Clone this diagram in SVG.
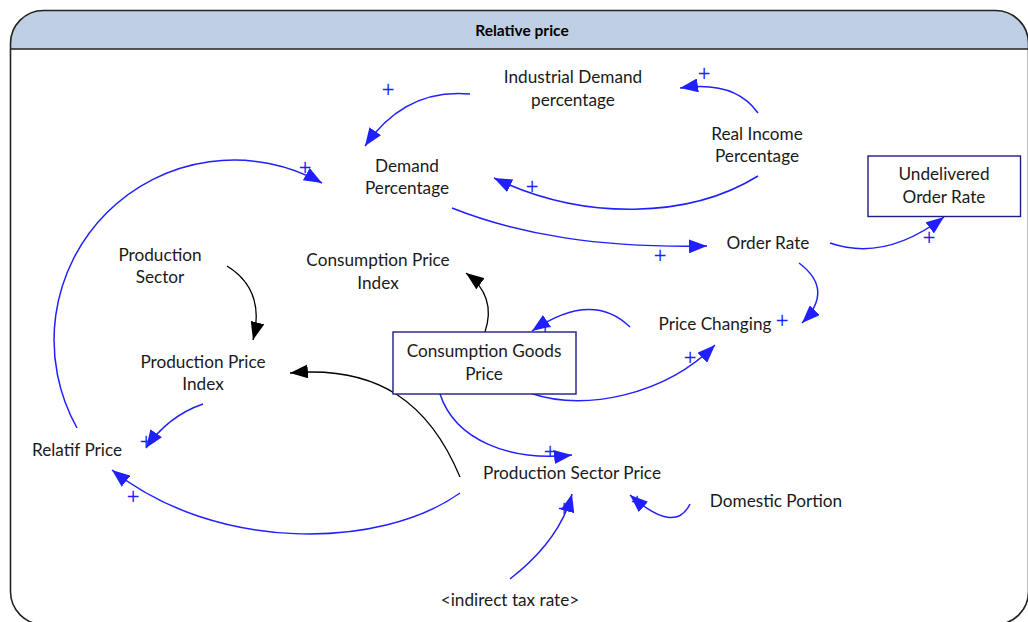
<svg xmlns="http://www.w3.org/2000/svg" width="1028" height="622" viewBox="0 0 1028 622">
  <defs>
    <linearGradient id="titleFill" x1="0" y1="0" x2="0" y2="1">
      <stop offset="0" stop-color="#c0d0e4"/>
      <stop offset="1" stop-color="#a5b9d2"/>
    </linearGradient>
    <clipPath id="titleClip">
      <rect x="10.5" y="10.5" width="1018" height="38.5"/>
    </clipPath>
    <marker id="arrowBlue" markerUnits="userSpaceOnUse" viewBox="0 0 18 14" refX="18" refY="7" markerWidth="18" markerHeight="14" orient="auto">
      <path d="M0,0 L18,7 L0,14 Z" fill="#1f1fff"/>
    </marker>
    <marker id="arrowBlack" markerUnits="userSpaceOnUse" viewBox="0 0 18 14" refX="18" refY="7" markerWidth="18" markerHeight="14" orient="auto">
      <path d="M0,0 L18,7 L0,14 Z" fill="#000"/>
    </marker>
    <style>
      .label { font-family: Lato, "Liberation Sans", sans-serif; font-size: 17.2px; fill: #1a1a1a; text-anchor: middle; }
      .title { font-family: Lato, "Liberation Sans", sans-serif; font-size: 15.5px; font-weight: bold; fill: #000; text-anchor: middle; }
      .plus { font-family: "DejaVu Sans", sans-serif; font-size: 17px; fill: #1f1fff; text-anchor: middle; }
      .box { fill: #fff; stroke: #1c1c8a; stroke-width: 1.4; }
      .link { fill: none; stroke: #1f1fff; stroke-width: 1.5; marker-end: url(#arrowBlue); }
      .linkBlack { fill: none; stroke: #000; stroke-width: 1.3; marker-end: url(#arrowBlack); }
    </style>
  </defs>

  <rect width="1028" height="622" fill="#fff"/>

  <!-- view frame with title band -->
  <g id="frame">
    <rect x="10.5" y="10.5" width="1018" height="614" rx="33" ry="33" fill="url(#titleFill)" clip-path="url(#titleClip)"/>
    <rect x="10.5" y="10.5" width="1018" height="614" rx="33" ry="33" fill="none" stroke="#222" stroke-width="1.6"/>
    <line x1="10.5" y1="49" x2="1028" y2="49" stroke="#222" stroke-width="1.6"/>
    <text class="title" x="522" y="36">Relative price</text>
  </g>

  <!-- causal links -->
  <g id="connectors">
    <path class="link" d="M470,94 Q405,88 365,146"/>
    <path class="link" d="M758,113 Q735,80 680,88"/>
    <path class="link" d="M758,176 C690,218 585,222 494,178"/>
    <path class="link" d="M77,428 A180,180 0 0 1 322,183"/>
    <path class="link" d="M452,208 C520,235 600,248 707,246"/>
    <path class="link" d="M830,243 Q885,262 944,217"/>
    <path class="link" d="M799,263 Q835,290 802,323"/>
    <path class="link" d="M630,327 Q592,290 532,331"/>
    <path class="link" d="M530,393 C585,412 665,395 715,345"/>
    <path class="link" d="M440,394 C455,440 510,462 572,455"/>
    <path class="linkBlack" d="M485,332 Q497,296 466,273"/>
    <path class="linkBlack" d="M227,266 Q266,290 253,340"/>
    <path class="linkBlack" d="M460,477 C430,405 380,365 290,373"/>
    <path class="link" d="M460,493 C380,550 215,552 112,470"/>
    <path class="link" d="M203,404 Q168,416 146,448"/>
    <path class="link" d="M510,579 Q560,540 572,494"/>
    <path class="link" d="M690,504 Q675,535 630,495"/>

    <text class="plus" x="388" y="95">+</text>
    <text class="plus" x="704" y="79">+</text>
    <text class="plus" x="532" y="192">+</text>
    <text class="plus" x="305" y="173">+</text>
    <text class="plus" x="660" y="261">+</text>
    <text class="plus" x="929" y="243">+</text>
    <text class="plus" x="782" y="326">+</text>
    <text class="plus" x="545" y="332">+</text>
    <text class="plus" x="690" y="363">+</text>
    <text class="plus" x="550" y="457">+</text>
    <text class="plus" x="146" y="447">+</text>
    <text class="plus" x="133" y="502">+</text>
    <text class="plus" x="564" y="514">+</text>
    <text class="plus" x="637" y="507">+</text>
  </g>

  <g id="industrial-demand-percentage">
    <text class="label" x="573" y="83">Industrial Demand</text>
    <text class="label" x="573" y="106">percentage</text>
  </g>
  <g id="real-income-percentage">
    <text class="label" x="757" y="140">Real Income</text>
    <text class="label" x="757" y="162">Percentage</text>
  </g>
  <g id="demand-percentage">
    <text class="label" x="407" y="172">Demand</text>
    <text class="label" x="407" y="194">Percentage</text>
  </g>
  <g id="undelivered-order-rate">
    <rect class="box" x="868" y="156" width="152.5" height="60.5"/>
    <text class="label" x="944" y="180">Undelivered</text>
    <text class="label" x="944" y="203">Order Rate</text>
  </g>
  <g id="order-rate">
    <text class="label" x="768" y="249">Order Rate</text>
  </g>
  <g id="production-sector">
    <text class="label" x="160" y="261">Production</text>
    <text class="label" x="160" y="283">Sector</text>
  </g>
  <g id="consumption-price-index">
    <text class="label" x="378" y="266">Consumption Price</text>
    <text class="label" x="378" y="289">Index</text>
  </g>
  <g id="price-changing">
    <text class="label" x="715" y="330">Price Changing</text>
  </g>
  <g id="consumption-goods-price">
    <rect class="box" x="393" y="332" width="183" height="62"/>
    <text class="label" x="484" y="357">Consumption Goods</text>
    <text class="label" x="484" y="380">Price</text>
  </g>
  <g id="production-price-index">
    <text class="label" x="203" y="368">Production Price</text>
    <text class="label" x="203" y="390">Index</text>
  </g>
  <g id="relatif-price">
    <text class="label" x="77" y="456">Relatif Price</text>
  </g>
  <g id="production-sector-price">
    <text class="label" x="572" y="479">Production Sector Price</text>
  </g>
  <g id="domestic-portion">
    <text class="label" x="776" y="507">Domestic Portion</text>
  </g>
  <g id="indirect-tax-rate">
    <text class="label" x="510" y="606">&lt;indirect tax rate&gt;</text>
  </g>
</svg>
